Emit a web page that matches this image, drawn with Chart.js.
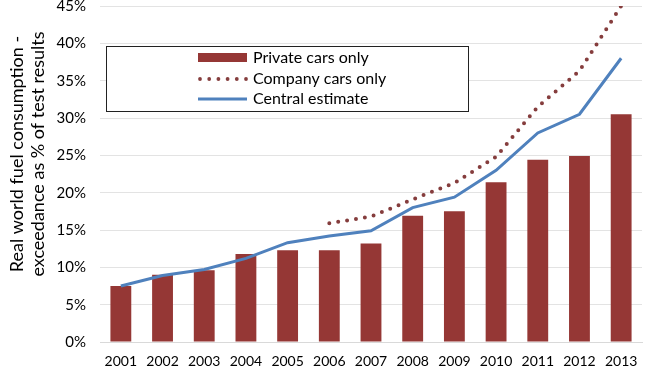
<!DOCTYPE html>
<html><head><meta charset="utf-8">
<script src="https://cdn.jsdelivr.net/npm/chart.js@4/dist/chart.umd.min.js"></script>
<style>html,body{margin:0;padding:0;background:#fff}#wrap{width:652px;height:374px}</style>
</head><body><div id="wrap"><canvas id="c" width="652" height="374"></canvas></div>
<script>
const years = ['2001','2002','2003','2004','2005','2006','2007','2008','2009','2010','2011','2012','2013'];
const privateCars = [7.5, 9.0, 9.6, 11.8, 12.3, 12.3, 13.2, 16.9, 17.5, 21.4, 24.4, 24.9, 30.5];
const companyCars = [null, null, null, null, null, 15.9, 16.8, 19.1, 21.3, 24.8, 31.5, 36.3, 45.0];
const centralEstimate = [7.5, 8.9, 9.7, 11.2, 13.3, 14.2, 14.9, 18.0, 19.4, 23.0, 28.0, 30.5, 38.0];
const yTitle = ['Real world fuel consumption -', 'exceedance as % of test results'];
const legendLabels = ['Private cars only', 'Company cars only', 'Central estimate'];

const FONT = 'Lato, "Open Sans", sans-serif';
const BAR = '#953735', DOT = '#853d3d', LINE = '#4f81bd';

const legendBox = {
  id: 'legendBox',
  afterDraw(chart) {
    const ctx = chart.ctx;
    const x0 = 106, y0 = 46, w = 362, h = 65;
    ctx.save();
    ctx.fillStyle = '#fff';
    ctx.fillRect(x0, y0, w, h);
    ctx.strokeStyle = '#222';
    ctx.lineWidth = 1;
    ctx.strokeRect(x0 + 0.5, y0 + 0.5, w, h);
    ctx.font = '16px ' + FONT;
    ctx.textBaseline = 'middle';
    const rows = [58, 79, 99];
    ctx.fillStyle = BAR;
    ctx.fillRect(198, rows[0] - 5, 49, 9);
    ctx.fillStyle = DOT;
    for (let i = 0; i < 6; i++) { ctx.beginPath(); ctx.arc(200 + i * 9.2, rows[1], 1.9, 0, Math.PI * 2); ctx.fill(); }
    ctx.strokeStyle = LINE; ctx.lineWidth = 3;
    ctx.beginPath(); ctx.moveTo(198, rows[2]); ctx.lineTo(247, rows[2]); ctx.stroke();
    ctx.fillStyle = '#000';
    legendLabels.forEach((t, i) => ctx.fillText(t, 253, rows[i]));
    // y-axis title
    ctx.font = '18px ' + FONT;
    ctx.textAlign = 'center';
    ctx.translate(0, 154);
    ctx.rotate(-Math.PI / 2);
    ctx.fillText(yTitle[0], 0, 17);
    ctx.fillText(yTitle[1], 0, 38);
    ctx.restore();
  }
};

new Chart(document.getElementById('c'), {
  data: {
    labels: years,
    datasets: [
      { type: 'line', label: legendLabels[2], data: centralEstimate, borderColor: LINE, borderWidth: 3, pointRadius: 0, tension: 0, order: 0 },
      { type: 'line', label: legendLabels[1], data: companyCars, borderColor: DOT, borderWidth: 4, borderDash: [0, 9], borderCapStyle: 'round', pointRadius: 0, tension: 0, spanGaps: false, order: 1 },
      { type: 'bar', label: legendLabels[0], data: privateCars, backgroundColor: BAR, barPercentage: 0.5, categoryPercentage: 1, order: 2 }
    ]
  },
  options: {
    responsive: false,
    animation: false,
    layout: { autoPadding: false, padding: { top: 6, right: 10, left: 5, bottom: 0 } },
    plugins: { legend: { display: false }, tooltip: { enabled: false } },
    scales: {
      x: {
        grid: { display: false, drawTicks: false },
        border: { display: true, color: '#d9d9d9' },
        ticks: { color: '#000', font: { family: FONT, size: 14 }, padding: 11, maxRotation: 0 },
        afterFit(s) { s.height = 32; s.paddingLeft = 0; s.paddingRight = 0; }
      },
      y: {
        min: 0, max: 45,
        grid: { color: '#e3e3e3', drawTicks: false },
        border: { display: false },
        ticks: { stepSize: 5, color: '#000', font: { family: FONT, size: 15 }, padding: 14, callback: v => v + '%' },
        title: { display: false, text: yTitle },
        afterFit(s) { s.width = 95; s.paddingTop = 0; s.paddingBottom = 0; }
      }
    }
  },
  plugins: [legendBox]
});
</script></body></html>
